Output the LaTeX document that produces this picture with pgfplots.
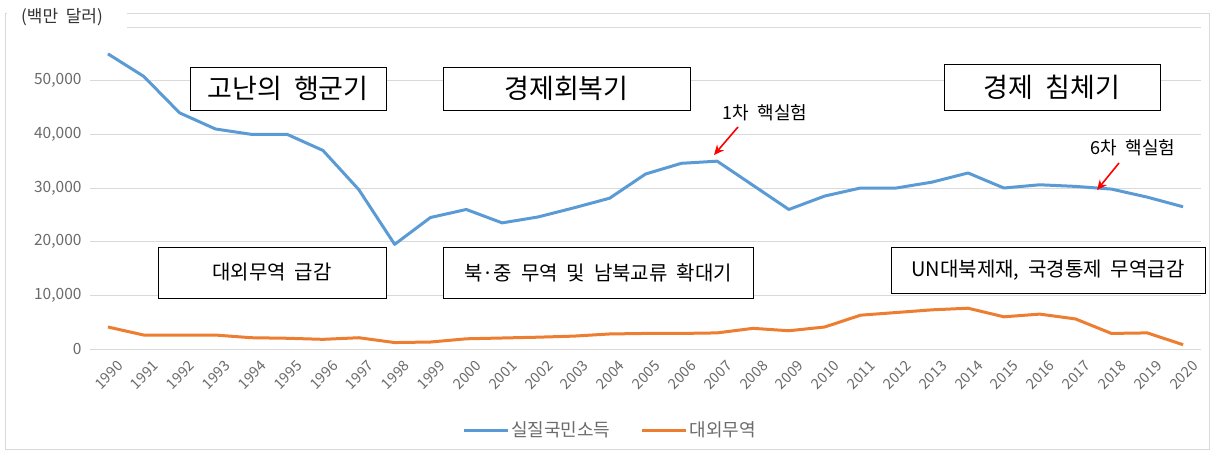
\documentclass[border=0pt]{standalone}
\usepackage{fontspec}
\setmainfont[WordSpace=2]{Noto Sans CJK KR}
\usepackage{pgfplots}
\pgfplotsset{compat=1.18}
\usetikzlibrary{arrows.meta}
\definecolor{cblue}{HTML}{5B9BD5}
\definecolor{corange}{HTML}{ED7D31}
\definecolor{gridc}{HTML}{D9D9D9}
\definecolor{tickc}{HTML}{6A6A6A}

\pgfplotstableread{
year income trade
1990 55000 4100
1991 50800 2600
1992 44000 2600
1993 41000 2600
1994 40000 2100
1995 40000 2000
1996 37000 1800
1997 29700 2100
1998 19500 1200
1999 24500 1300
2000 26000 1900
2001 23500 2050
2002 24600 2200
2003 26300 2400
2004 28100 2800
2005 32600 2900
2006 34600 2900
2007 35000 3000
2008 30500 3850
2009 26000 3400
2010 28500 4100
2011 30000 6300
2012 30000 6800
2013 31100 7300
2014 32800 7600
2015 30000 6000
2016 30600 6500
2017 30300 5600
2018 29800 2900
2019 28300 3000
2020 26500 800
}\datatable

\begin{document}
\begin{tikzpicture}
\useasboundingbox (0pt,0pt) rectangle (1210pt,450pt);
\draw[gridc, line width=0.8pt] (5pt,1pt) rectangle (1209pt,437pt);
\begin{axis}[
  at={(90pt,101pt)}, anchor=south west,
  scale only axis, width=1111pt, height=322pt,
  xmin=1989.5, xmax=2020.5, ymin=0, ymax=60000,
  xtick={1990,...,2020}, ytick={0,10000,...,50000},
  extra y ticks={60000}, extra y tick labels={},
  extra y tick style={ymajorgrids=true},
  ymajorgrids, grid style={gridc, line width=0.8pt},
  axis line style={draw=none},
  major tick style={draw=none},
  scaled y ticks=false,
  clip=false,
  /pgf/number format/assume math mode=true,
  xticklabel={\pgfmathprintnumber[1000 sep={}]{\tick}},
  yticklabel={\pgfmathprintnumber[1000 sep={,}]{\tick}},
  yticklabel style={font=\fontsize{15.5}{17}\selectfont, text=tickc, anchor=east, xshift=-5pt},
  xticklabel style={font=\fontsize{14.5}{15}\selectfont, text=tickc, rotate=45, anchor=east, inner sep=0.5pt, yshift=-19pt, xshift=-1pt},
  legend style={at={(0.468,-0.2516)}, anchor=center, draw=none, fill=none,
    legend columns=2, font=\fontsize{18}{20}\selectfont, text=tickc,
    /tikz/every even column/.append style={column sep=28pt}},
  legend image code/.code={\draw[#1, line width=3pt] (0pt,0pt) -- (44pt,0pt);},
]
\addplot[cblue, line width=3pt, line join=round] table[x=year, y=income] {\datatable};
\addlegendentry{실질국민소득}
\addplot[corange, line width=3pt, line join=round] table[x=year, y=trade] {\datatable};
\addlegendentry{대외무역}
\end{axis}
% unit label
\fill[white] (7pt,420pt) rectangle (127pt,449pt);
\node[font=\fontsize{17}{19}\selectfont, text=black!80] at (62pt,433pt) {(백만 달러)};
% boxes
\tikzset{pbox/.style={draw=black, line width=0.9pt, fill=white, inner sep=0pt, align=center}}
\node[pbox, minimum width=196pt, minimum height=43pt, font=\fontsize{27}{29}\selectfont] at (288pt,361.5pt) {고난의 행군기};
\node[pbox, minimum width=247pt, minimum height=43pt, font=\fontsize{27}{29}\selectfont] at (566.5pt,361.5pt) {경제회복기};
\node[pbox, minimum width=216pt, minimum height=46pt, font=\fontsize{27}{29}\selectfont] at (1052pt,363pt) {경제 침체기};
\node[pbox, minimum width=228pt, minimum height=51pt, font=\fontsize{20}{22}\selectfont] at (272pt,177.5pt) {대외무역 급감};
\node[pbox, minimum width=310pt, minimum height=51pt, font=\fontsize{20}{22}\selectfont] at (598pt,177.5pt) {북·중 무역 및 남북교류 확대기};
\node[pbox, minimum width=314pt, minimum height=46pt, font=\fontsize{20}{22}\selectfont] at (1048pt,180pt) {UN대북제재, 국경통제 무역급감};
% nuclear tests
\node[font=\fontsize{18}{20}\selectfont] at (765pt,337pt) {1차 핵실험};
\draw[red, line width=1.6pt, -{Stealth[length=10pt, width=9pt]}] (738pt,323pt) -- (714pt,295pt);
\node[font=\fontsize{18}{20}\selectfont] at (1133pt,302pt) {6차 핵실험};
\draw[red, line width=1.6pt, -{Stealth[length=10pt, width=9pt]}] (1119pt,287pt) -- (1097pt,260pt);
\end{tikzpicture}
\end{document}
